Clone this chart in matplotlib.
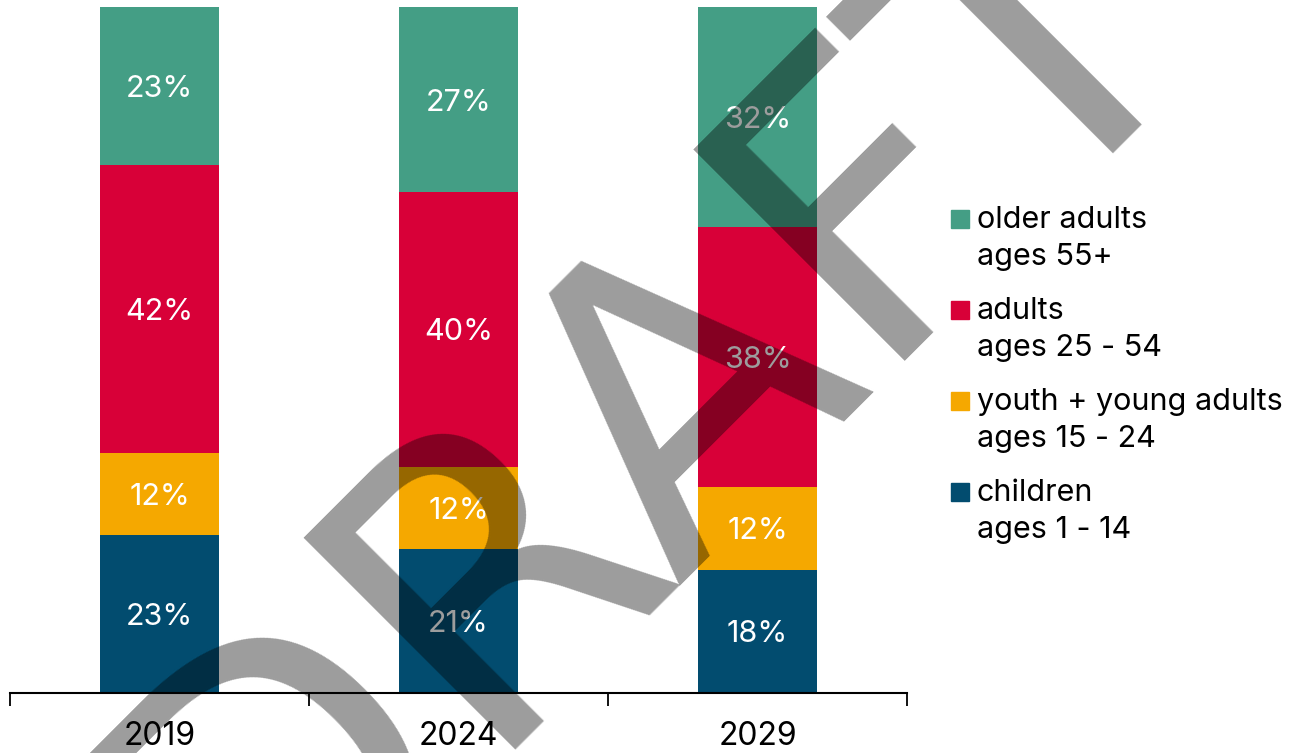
import matplotlib
matplotlib.use('Agg')
import matplotlib.pyplot as plt
from matplotlib.patches import Rectangle

years = ['2019', '2024', '2029']
groups = ['children', 'youth + young adults', 'adults', 'older adults']
ages = ['ages 1 - 14', 'ages 15 - 24', 'ages 25 - 54', 'ages 55+']
children = [23, 21, 18]
youth = [12, 12, 12]
adults = [42, 40, 38]
older = [23, 27, 32]
colors = ['#024C6F', '#F5A800', '#D80038', '#449E85']

plt.rcParams['font.family'] = ['Inter', 'DejaVu Sans']

W, H = 1306, 753
fig = plt.figure(figsize=(W / 100, H / 100), dpi=100)
ax = fig.add_axes([10 / W, 60 / H, 897 / W, 686 / H])

x = list(range(len(years)))
bottom = [0] * len(years)
for vals, col in zip([children, youth, adults, older], colors):
    ax.bar(x, vals, width=0.4, bottom=bottom, color=col, zorder=2)
    for xi, v, b in zip(x, vals, bottom):
        ax.text(xi, b + v / 2, f'{v}%', ha='center', va='center_baseline',
                color='white', fontsize=22, zorder=3)
    bottom = [b + v for b, v in zip(bottom, vals)]

ax.set_xlim(-0.5, len(years) - 0.5)
ax.set_ylim(0, 100)
for side in ['top', 'left', 'right']:
    ax.spines[side].set_visible(False)
ax.spines['bottom'].set_linewidth(1.5)
ax.set_yticks([])

# boundary ticks between the year groups, labels sit at the bar centres
ax.set_xticks([i - 0.5 for i in range(len(years) + 1)])
ax.set_xticklabels([])
ax.tick_params(axis='x', which='major', length=9, width=1.3, direction='out')
ax.set_xticks(x, minor=True)
ax.set_xticklabels(years, minor=True, fontsize=23)
ax.tick_params(axis='x', which='minor', length=0, pad=20)

# legend, top entry first
for i, (g, a, col) in enumerate(zip(groups[::-1], ages[::-1], colors[::-1])):
    top = 210 + 91 * i
    fig.add_artist(Rectangle((951 / W, 1 - (top + 18) / H), 18 / W, 18 / H,
                             transform=fig.transFigure, color=col))
    fig.text(977 / W, 1 - (top + 18) / H, g, fontsize=22, va='baseline')
    fig.text(977 / W, 1 - (top + 55) / H, a, fontsize=22, va='baseline')

# draft watermark
fig.text(729 / W, 1 - 496 / H, 'DRAFT', rotation=45, rotation_mode='anchor',
         ha='center', va='baseline', fontsize=296, color='black', alpha=0.39,
         family='DejaVu Sans', zorder=10)

fig.savefig('out.png', dpi=100)
